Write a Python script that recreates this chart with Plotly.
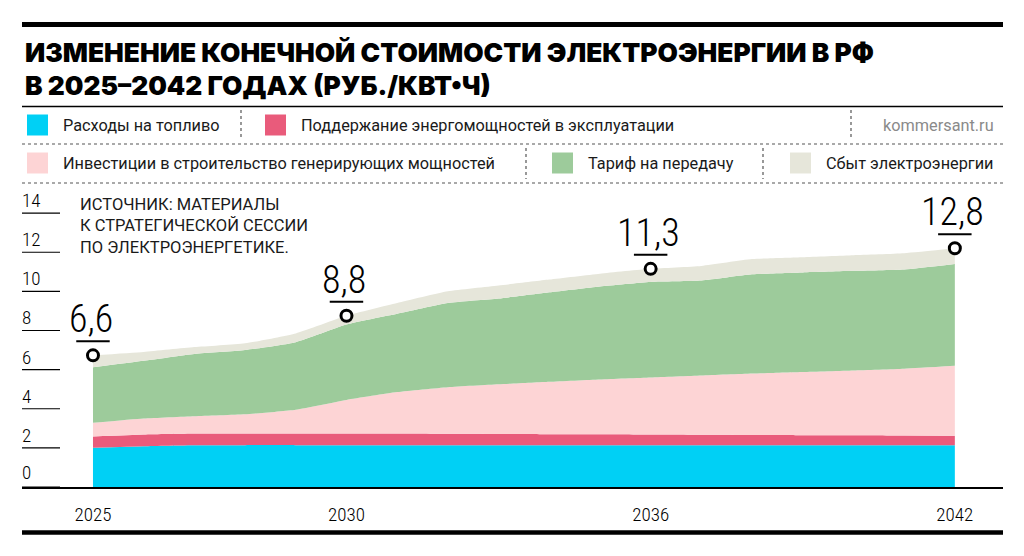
import plotly.graph_objects as go

# data (rub/kWh)
years = list(range(2025, 2043))
fuel = [2.00, 2.08, 2.13, 2.14, 2.14, 2.14, 2.14, 2.14, 2.14, 2.14, 2.14, 2.14, 2.14, 2.14, 2.14, 2.14, 2.14, 2.14]
upkeep = [0.58, 0.60, 0.60, 0.60, 0.60, 0.60, 0.59, 0.58, 0.57, 0.56, 0.55, 0.54, 0.53, 0.52, 0.51, 0.50, 0.49, 0.48]
invest = [0.70, 0.82, 0.89, 0.98, 1.21, 1.71, 2.12, 2.38, 2.54, 2.68, 2.81, 2.92, 3.03, 3.14, 3.23, 3.32, 3.42, 3.58]
grid = [2.84, 2.95, 3.18, 3.28, 3.45, 3.85, 4.00, 4.30, 4.38, 4.57, 4.75, 4.88, 4.85, 5.07, 5.09, 5.09, 5.07, 5.20]
sales = [0.61, 0.45, 0.35, 0.35, 0.45, 0.45, 0.55, 0.60, 0.67, 0.65, 0.65, 0.67, 0.75, 0.78, 0.78, 0.80, 0.83, 0.80]

names = ["Расходы на топливо", "Поддержание энергомощностей в эксплуатации",
         "Инвестиции в строительство генерирующих мощностей", "Тариф на передачу",
         "Сбыт электроэнергии"]
colors = ["#00d0f5", "#e95b7b", "#fdd4d5", "#9dcb9b", "#e6e6da"]

label_years = [2025, 2030, 2036, 2042]
label_texts = ["6,6", "8,8", "11,3", "12,8"]

ytick_vals = [0, 2, 4, 6, 8, 10, 12, 14]
xtick_vals = [2025, 2030, 2036, 2042]

series = [fuel, upkeep, invest, grid, sales]
totals = [round(sum(v), 2) for v in zip(*series)]

# pixel helpers (plot area: x 22..1003, y 200..487)
L, R, T, B = 22, 1003, 200, 487
def px(p):
    return (p - L) / (R - L)
def py(p):
    return (B - p) / (B - T)
unit = (B - T) / 14.67  # pixels per rub

fig = go.Figure()
for vals, name, col in zip(series, names, colors):
    fig.add_trace(go.Scatter(x=years, y=vals, name=name, stackgroup="one", mode="lines",
                             line=dict(width=0, shape="spline", smoothing=0.5),
                             fillcolor=col, hoverinfo="skip"))

# circles at the marked years
ly = [totals[years.index(y)] for y in label_years]
fig.add_trace(go.Scatter(x=label_years, y=ly, mode="markers",
                         marker=dict(size=11, color="white", line=dict(color="black", width=3)),
                         hoverinfo="skip"))

narrow = "Roboto Condensed, DejaVu Sans Condensed, Liberation Sans Narrow, Roboto"
ann = []
shapes = []

# value labels with underline
for yr, yv, t in zip(label_years, ly, label_texts):
    ann.append(dict(x=yr, y=yv, text=t, showarrow=False, xanchor="center", yanchor="bottom",
                    yshift=12, xshift=-2, font=dict(family=narrow, size=38, color="black", weight=300)))
    shapes.append(dict(type="line", x0=yr - 0.33, x1=yr + 0.33, y0=yv + 14 / unit, y1=yv + 14 / unit,
                       line=dict(color="black", width=2)))

# y ticks: short lines with labels on top
for v in ytick_vals:
    shapes.append(dict(type="line", xref="paper", x0=0, x1=px(60), y0=v, y1=v,
                       line=dict(color="black", width=1.2)))
    if v > 0:
        ann.append(dict(xref="paper", x=0, y=v, text=str(v), showarrow=False, xanchor="left",
                        yanchor="bottom", xshift=-2, yshift=-1,
                        font=dict(family=narrow, size=19, color="black", weight=300)))
ann.append(dict(xref="paper", x=0, y=0, text="0", showarrow=False, xanchor="left",
                yanchor="bottom", xshift=-2, yshift=1,
                font=dict(family=narrow, size=19, color="black", weight=300)))

# source note
ann.append(dict(xref="paper", yref="paper", x=px(78), y=py(193), xanchor="left", yanchor="top",
                text="ИСТОЧНИК: МАТЕРИАЛЫ<br>К СТРАТЕГИЧЕСКОЙ СЕССИИ<br>ПО ЭЛЕКТРОЭНЕРГЕТИКЕ.",
                align="left", showarrow=False,
                font=dict(family="Roboto", size=16.5, color="#1a1a1a")))

# title
title_font = dict(family="Inter", size=26.3, color="black", weight=900)
ann.append(dict(xref="paper", yref="paper", x=px(23), y=py(52.5), xanchor="left", yanchor="middle",
                text="ИЗМЕНЕНИЕ КОНЕЧНОЙ СТОИМОСТИ ЭЛЕКТРОЭНЕРГИИ В РФ", showarrow=False, font=title_font))
ann.append(dict(xref="paper", yref="paper", x=px(23), y=py(85.5), xanchor="left", yanchor="middle",
                text="В 2025–2042 ГОДАХ (РУБ./КВТ•Ч)", showarrow=False, font=title_font))

# rules
shapes.append(dict(type="line", xref="paper", yref="paper", x0=0, x1=1, y0=py(24.5), y1=py(24.5),
                   line=dict(color="black", width=5)))
shapes.append(dict(type="line", xref="paper", yref="paper", x0=0, x1=1, y0=py(106.5), y1=py(106.5),
                   line=dict(color="black", width=1.5)))
shapes.append(dict(type="line", xref="paper", yref="paper", x0=0, x1=1, y0=py(532.5), y1=py(532.5),
                   line=dict(color="black", width=4.5)))
for yy in [144, 183]:
    shapes.append(dict(type="line", xref="paper", yref="paper", x0=0, x1=1, y0=py(yy), y1=py(yy),
                       line=dict(color="#555555", width=1.2, dash="3px,3px")))
for xx, y0, y1 in [(241, 110, 140), (851, 110, 140), (526, 148, 179), (763, 148, 179)]:
    shapes.append(dict(type="line", xref="paper", yref="paper", x0=px(xx), x1=px(xx), y0=py(y0), y1=py(y1),
                       line=dict(color="#555555", width=1.2, dash="3px,3px")))

# legend
leg_pos = [(27, 125), (265, 125), (27, 163), (552, 163), (790, 163)]
for (lx, lyy), name, col in zip(leg_pos, names, colors):
    shapes.append(dict(type="rect", xref="paper", yref="paper", x0=px(lx), x1=px(lx + 21),
                       y0=py(lyy - 10.5), y1=py(lyy + 10.5), fillcolor=col, line=dict(width=0)))
    ann.append(dict(xref="paper", yref="paper", x=px(lx + 34), y=py(lyy + 1), xanchor="left", yanchor="middle",
                    text=name, showarrow=False, font=dict(family="Roboto", size=16.3, color="#1a1a1a")))
ann.append(dict(xref="paper", yref="paper", x=px(996), y=py(126), xanchor="right", yanchor="middle",
                text="kommersant.ru", showarrow=False, font=dict(family="Roboto", size=16.3, color="#8a8a8a")))

fig.update_layout(
    width=1024, height=556,
    margin=dict(l=L, r=1024 - R, t=T, b=556 - B),
    plot_bgcolor="white", paper_bgcolor="white",
    showlegend=False,
    annotations=ann, shapes=shapes,
    xaxis=dict(range=[2023.6, 2042.95], tickvals=xtick_vals, ticktext=[str(v) for v in xtick_vals],
               showgrid=False, zeroline=False, showline=True, linecolor="black", linewidth=2,
               ticks="", ticklabelstandoff=9,
               tickfont=dict(family=narrow, size=19, color="black", weight=300)),
    yaxis=dict(range=[0, 14.67], showgrid=False, zeroline=False, showticklabels=False, showline=False),
)

# the page body has a default margin; drop it so the figure sits at 0,0
fig.write_html("out.html", config={"displayModeBar": False},
               post_script="document.body.style.margin='0';")
